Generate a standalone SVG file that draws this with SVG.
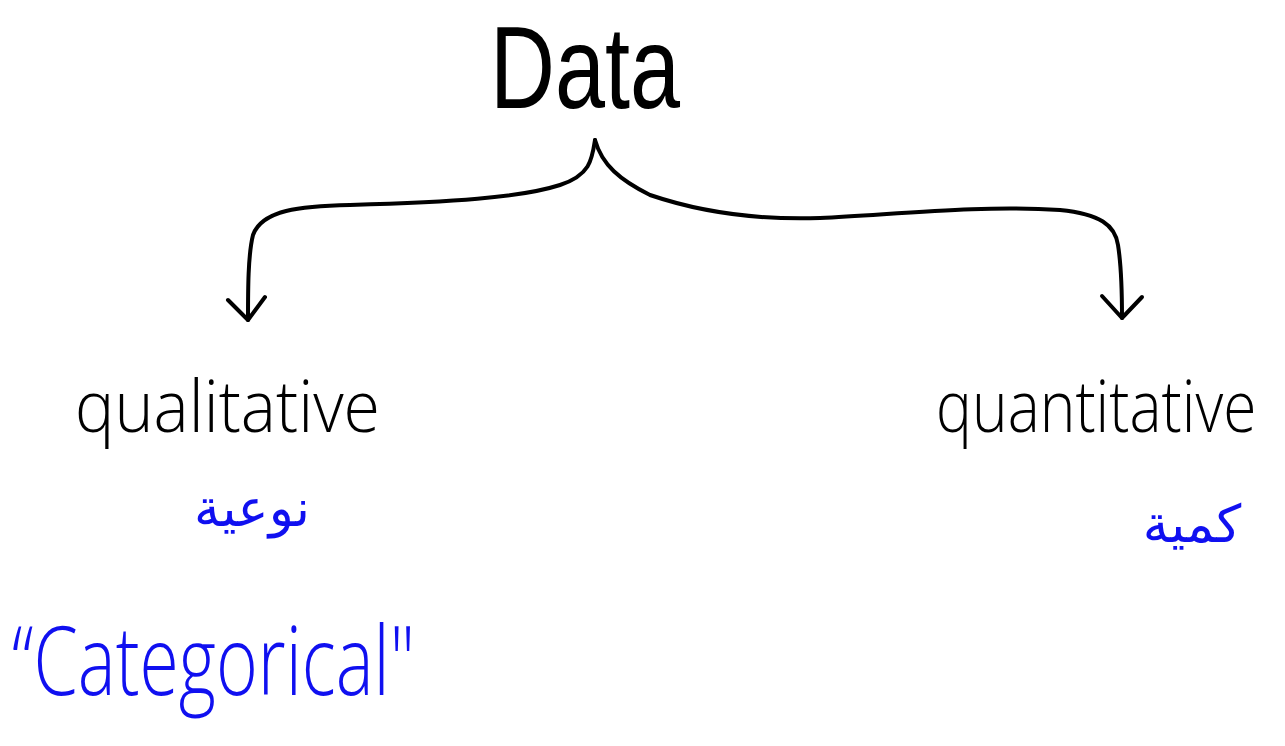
<svg xmlns="http://www.w3.org/2000/svg" width="1285" height="746" viewBox="0 0 1285 746">
  <style>
    .ink { fill: #000000; font-family: "Open Sans", "DejaVu Sans", sans-serif; font-weight: 300; }
    .title { fill: #000000; font-family: "Liberation Sans", "DejaVu Sans", sans-serif; }
    .blue { fill: #1010F0; font-family: "Open Sans", "DejaVu Sans", sans-serif; font-weight: 300; }
    .ar { fill: #1010F0; font-family: "DejaVu Sans", "Noto Sans", sans-serif; }
    .stroke { fill: none; stroke: #000000; stroke-width: 4; stroke-linecap: round; stroke-linejoin: round; }
  </style>
  <rect width="1285" height="746" fill="#FFFFFF"/>

  <g id="data">
    <text class="title" x="490" y="108" font-size="116" textLength="190" lengthAdjust="spacingAndGlyphs">Data</text>
  </g>

  <g id="connectors">
    <!-- left branch -->
    <path class="stroke" d="M595,140 C592,160 590,175 560,185 C520,198 450,202 350,205 C300,206 262,210 253,235 C248,255 248,290 248,320"/>
    <path class="stroke" d="M228,300 L248,320 L265,297"/>
    <!-- right branch -->
    <path class="stroke" d="M595,140 C602,165 620,180 650,195 C700,212 760,220 820,218 C900,214 980,205 1060,210 C1100,214 1115,225 1118,245 C1122,270 1122,300 1122,318"/>
    <path class="stroke" d="M1102,296 L1122,318 L1142,297"/>
  </g>

  <g id="qualitative">
    <text class="ink" x="75" y="432" font-size="72" textLength="305" lengthAdjust="spacingAndGlyphs">qualitative</text>
    <text class="ar" x="252" y="526" font-size="52" text-anchor="middle" direction="rtl">نوعية</text>
  </g>

  <g id="quantitative">
    <!-- narrowed horizontally so the word stays inside the right edge -->
    <text class="ink" transform="translate(936 432) scale(0.84 1)" x="0" y="0" font-size="72">quantitative</text>
    <text class="ar" x="1192" y="542" font-size="52" text-anchor="middle" direction="rtl">كمية</text>
  </g>

  <g id="categorical">
    <text class="blue" x="12" y="695" font-size="96" textLength="403" lengthAdjust="spacingAndGlyphs">“Categorical"</text>
  </g>
</svg>
